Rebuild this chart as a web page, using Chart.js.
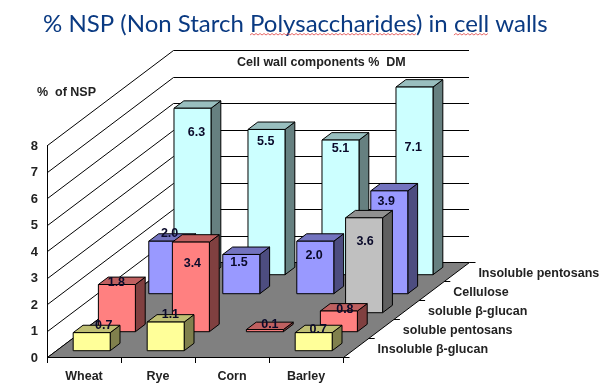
<!DOCTYPE html>
<html>
<head>
<meta charset="utf-8">
<title>NSP in cell walls</title>
<script src="https://cdn.jsdelivr.net/npm/chart.js@4"></script>
<style>
html, body { margin: 0; padding: 0; background: #fff; }
canvas { display: block; }
</style>
</head>
<body>
<canvas id="chart" width="607" height="388"></canvas>
<script>
var categories = ['Wheat', 'Rye', 'Corn', 'Barley'];
var seriesNames = ['Insoluble β-glucan', 'soluble pentosans', 'soluble β-glucan', 'Cellulose', 'Insoluble pentosans'];

// front row first, back row last
var insolubleGlucan = [0.7, 1.1, null, 0.7];
var solublePentosans = [1.8, 3.4, 0.1, 0.8];
var solubleGlucan = [null, null, null, 3.6];
var cellulose = [2.0, 1.5, 2.0, 3.9];
var insolublePentosans = [6.3, 5.5, 5.1, 7.1];

var seriesValues = [insolubleGlucan, solublePentosans, solubleGlucan, cellulose, insolublePentosans];
var seriesColors = ['#ffff99', '#ff8080', '#c0c0c0', '#9999ff', '#ccffff'];
var yTicks = [0, 1, 2, 3, 4, 5, 6, 7, 8];

// one row of the fake 3d floor, in pixels
var ROW_DX = 25.2;
var ROW_DY = 19;
var ROWS = seriesNames.length;
var BAR_DEPTH = 0.39; // part of a row taken by the bar

var LABEL_FONT = 'bold 12.5px "Liberation Sans", Arial, sans-serif';

// the value labels were placed by hand in the original, so each one gets a nudge
var labelNudge = [
    [[12, -7], [4.7, -8], null, [4.5, -3.5]],
    [[-0.5, -2.3], [1.5, 21], [5, -5.3], [6, -1.8]],
    [null, null, null, [1, 23.8]],
    [[2.3, -8], [-2.3, 7.8], [-1.2, 14.7], [-3, 11]],
    [[4, 24], [-0.8, 12], [0, 8], [-1.2, 60]]
];

function shade(hex, f) {
    var n = parseInt(hex.slice(1), 16);
    var r = Math.round((n >> 16) * f);
    var g = Math.round(((n >> 8) & 255) * f);
    var b = Math.round((n & 255) * f);
    return 'rgb(' + r + ',' + g + ',' + b + ')';
}

function poly(ctx, pts, fill) {
    ctx.beginPath();
    ctx.moveTo(pts[0][0], pts[0][1]);
    for (var i = 1; i < pts.length; i++) {
        ctx.lineTo(pts[i][0], pts[i][1]);
    }
    ctx.closePath();
    if (fill) {
        ctx.fillStyle = fill;
        ctx.fill();
    }
    ctx.stroke();
}

function drawBar(ctx, el, row, color) {
    var off = row + (1 - BAR_DEPTH) / 2;
    var l = el.x - el.width / 2 + off * ROW_DX;
    var r = l + el.width;
    var t = el.y - off * ROW_DY;
    var b = el.base - off * ROW_DY;
    var dx = BAR_DEPTH * ROW_DX;
    var dy = BAR_DEPTH * ROW_DY;

    poly(ctx, [[r, b], [r + dx, b - dy], [r + dx, t - dy], [r, t]], shade(color, 0.5));
    poly(ctx, [[l, t], [l + dx, t - dy], [r + dx, t - dy], [r, t]], shade(color, 0.75));
    poly(ctx, [[l, t], [r, t], [r, b], [l, b]], color);
}

function wavyLine(ctx, x0, x1, y) {
    ctx.beginPath();
    ctx.moveTo(x0, y);
    var up = true;
    for (var x = x0 + 2; x <= x1; x += 2) {
        ctx.lineTo(x, up ? y - 1.5 : y);
        up = !up;
    }
    ctx.stroke();
}

var depthChart = {
    id: 'depthChart',
    afterLayout: function(chart) {
        // the title sits further left and runs wider than the plot
        chart.titleBlock.left = 43;
        chart.titleBlock.right = chart.width;
    },
    beforeDatasetsDraw: function(chart) {
        var ctx = chart.ctx;
        var area = chart.chartArea;
        var yScale = chart.scales.y;
        var backDx = ROWS * ROW_DX;
        var backDy = ROWS * ROW_DY;

        ctx.save();
        ctx.strokeStyle = '#000';
        ctx.lineWidth = 1;

        // gridlines run up the left wall and along the back wall
        yTicks.forEach(function(v) {
            var y = Math.round(yScale.getPixelForValue(v)) + 0.5;
            ctx.beginPath();
            ctx.moveTo(area.left + 0.5, y);
            ctx.lineTo(area.left + 0.5 + backDx, y - backDy);
            ctx.lineTo(area.right + backDx, y - backDy);
            ctx.stroke();
        });

        var y0 = Math.round(yScale.getPixelForValue(0)) + 0.5;
        poly(ctx, [
            [area.left + 0.5, y0],
            [area.right + 0.5, y0],
            [area.right + 0.5 + backDx, y0 - backDy],
            [area.left + 0.5 + backDx, y0 - backDy]
        ], '#808080');

        // short ticks on the right edge of the floor
        for (var i = 0; i <= ROWS; i++) {
            var tx = area.right + 0.5 + i * ROW_DX;
            var ty = y0 - i * ROW_DY;
            ctx.beginPath();
            ctx.moveTo(tx, ty);
            ctx.lineTo(tx + 6, ty);
            ctx.stroke();
        }
        ctx.restore();
    },
    beforeDatasetDraw: function(chart, args) {
        var ctx = chart.ctx;
        var color = chart.data.datasets[args.index].backgroundColor;
        ctx.save();
        ctx.strokeStyle = '#000';
        ctx.lineWidth = 1;
        args.meta.data.forEach(function(el, i) {
            if (seriesValues[args.index][i] !== null) {
                drawBar(ctx, el, args.index, color);
            }
        });
        ctx.restore();
        return false;
    },
    afterDatasetsDraw: function(chart) {
        var ctx = chart.ctx;
        var area = chart.chartArea;
        var y0 = chart.scales.y.getPixelForValue(0);

        ctx.save();
        ctx.font = LABEL_FONT;
        ctx.textBaseline = 'middle';

        // value labels
        ctx.textAlign = 'center';
        ctx.fillStyle = '#0a0a2a';
        seriesValues.forEach(function(values, row) {
            var meta = chart.getDatasetMeta(row);
            var off = row + (1 - BAR_DEPTH) / 2;
            values.forEach(function(v, i) {
                if (v === null) {
                    return;
                }
                var el = meta.data[i];
                var n = labelNudge[row][i];
                ctx.fillText(v.toFixed(1), el.x + off * ROW_DX + n[0], el.y - off * ROW_DY + n[1]);
            });
        });

        // row names next to the floor
        ctx.textAlign = 'left';
        ctx.fillStyle = '#222';
        seriesNames.forEach(function(name, row) {
            ctx.fillText(name, area.right + 22 + (row + 0.5) * ROW_DX, y0 - (row + 0.5) * ROW_DY + 2);
        });

        ctx.fillText('%  of NSP', 37, 93);
        ctx.fillText('Cell wall components %  DM', 237, 63);

        // spell checker squiggles under the title
        var title = chart.options.plugins.title;
        var text = title.text;
        ctx.font = title.font.weight + ' ' + title.font.size + 'px ' + title.font.family;
        ctx.strokeStyle = '#e04040';
        ctx.lineWidth = 0.8;
        ['Polysaccharides', 'cell'].forEach(function(word) {
            var start = chart.titleBlock.left + ctx.measureText(text.slice(0, text.indexOf(word))).width;
            wavyLine(ctx, start, start + ctx.measureText(word).width, 35);
        });
        ctx.restore();
    }
};

var datasets = seriesNames.map(function(name, i) {
    return {
        label: name,
        data: seriesValues[i],
        backgroundColor: seriesColors[i],
        grouped: false,
        categoryPercentage: 1,
        barPercentage: 0.5
    };
});

var ctx = document.getElementById('chart').getContext('2d');
var myChart = new Chart(ctx, {
    type: 'bar',
    data: { labels: categories, datasets: datasets },
    plugins: [depthChart],
    options: {
        responsive: false,
        animation: false,
        layout: { padding: { left: 0, right: 264, top: 0, bottom: 0 } },
        plugins: {
            legend: { display: false },
            tooltip: { enabled: false },
            title: {
                display: true,
                text: '% NSP (Non Starch Polysaccharides) in cell walls',
                align: 'start',
                color: '#0a3a82',
                font: { family: 'Lato', size: 24, weight: 'normal', lineHeight: 1 },
                padding: { top: 12, bottom: 109 }
            }
        },
        scales: {
            x: {
                grid: { drawOnChartArea: false, color: '#000', tickLength: 6 },
                border: { color: '#000' },
                ticks: { color: '#222', font: { family: '"Liberation Sans"', size: 12.5, weight: 'bold' }, padding: 6, maxRotation: 0 },
                afterFit: function(scale) { scale.height = 31; }
            },
            y: {
                min: 0,
                max: 8,
                grid: { drawOnChartArea: false, drawTicks: false },
                border: { color: '#000' },
                ticks: { stepSize: 1, color: '#222', font: { family: '"Liberation Sans"', size: 13, weight: 'bold' }, padding: 9, labelOffset: 1 },
                afterFit: function(scale) { scale.width = 47; }
            }
        }
    }
});
</script>
</body>
</html>
